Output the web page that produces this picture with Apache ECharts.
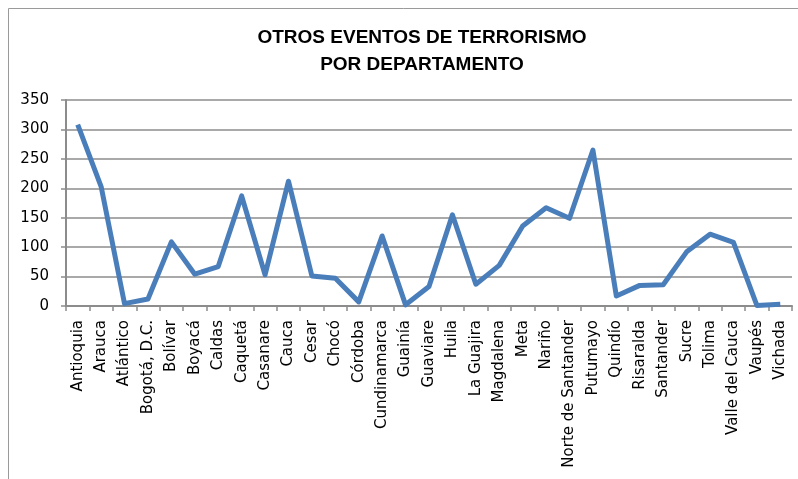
<!DOCTYPE html>
<html>
<head>
<meta charset="utf-8">
<script src="https://cdn.jsdelivr.net/npm/echarts@6/dist/echarts.min.js"></script>
<style>html,body{margin:0;padding:0;background:#fff;}#c{width:798px;height:479px;}</style>
</head>
<body>
<div id="c"></div>
<script>
const titleText = 'OTROS EVENTOS DE TERRORISMO\nPOR DEPARTAMENTO';
const departamentos = ['Antioquia','Arauca','Atlántico','Bogotá, D.C.','Bolívar','Boyacá','Caldas','Caquetá','Casanare','Cauca','Cesar','Chocó','Córdoba','Cundinamarca','Guainía','Guaviare','Huila','La Guajira','Magdalena','Meta','Nariño','Norte de Santander','Putumayo','Quindío','Risaralda','Santander','Sucre','Tolima','Valle del Cauca','Vaupés','Vichada'];
const eventos = [308,203,4,12,109,54,67,187,53,212,51,47,7,119,2,33,155,37,69,136,167,149,265,17,35,36,92,122,108,1,3];
const yMin = 0, yMax = 350, yStep = 50;

const chart = echarts.init(document.getElementById('c'), null, {renderer:'canvas'});
chart.setOption({
  animation:false,
  backgroundColor:'#fff',
  graphic:[{type:'rect',shape:{x:8.5,y:8.5,width:900,height:600},style:{fill:'none',stroke:'#9a9a9a',lineWidth:1}}],
  title:{text:titleText,left:417,top:19,textAlign:'center',
    textStyle:{fontFamily:'Liberation Sans',fontWeight:'bold',fontSize:19,lineHeight:27,color:'#000'}},
  grid:{left:66,right:6,top:100,bottom:173,containLabel:false},
  xAxis:{type:'category',data:departamentos,boundaryGap:true,
    axisLine:{lineStyle:{color:'#8c8c8c',width:2}},
    axisTick:{show:true,length:5,interval:0,lineStyle:{color:'#8c8c8c',width:1.5}},
    axisLabel:{rotate:90,interval:0,margin:14,fontFamily:'DejaVu Sans',fontSize:15,color:'#000'}},
  yAxis:{type:'value',min:yMin,max:yMax,interval:yStep,
    axisLine:{show:true,lineStyle:{color:'#8c8c8c',width:2}},
    axisTick:{show:true,length:5,lineStyle:{color:'#8c8c8c',width:1.5}},
    splitLine:{lineStyle:{color:'#8c8c8c',width:1.6}},
    axisLabel:{margin:17,fontFamily:'DejaVu Sans',fontSize:15,color:'#000'}},
  series:[{type:'line',data:eventos,symbol:'none',lineStyle:{color:'#4a7ebb',width:5,join:'round'}}]
});
</script>
</body>
</html>
